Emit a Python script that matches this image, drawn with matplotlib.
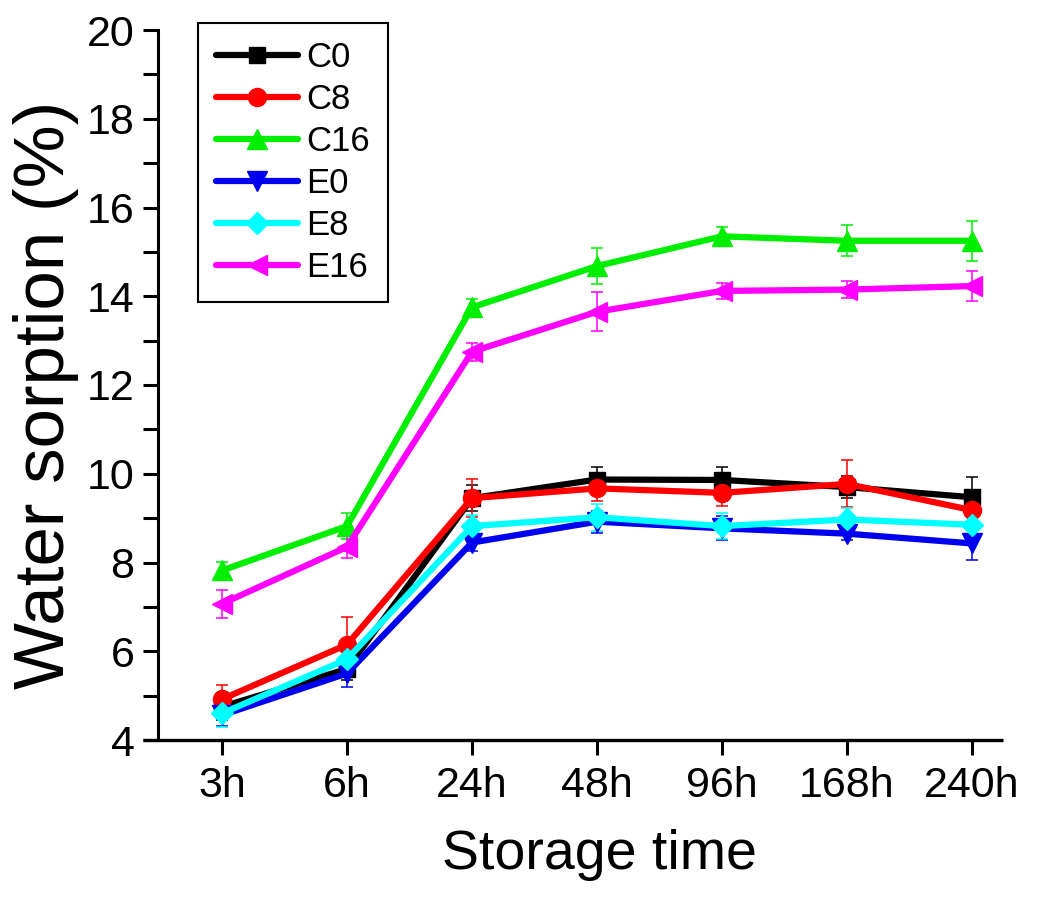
import matplotlib
matplotlib.use("Agg")
import matplotlib.pyplot as plt
from matplotlib.lines import Line2D
import numpy as np

plt.rcParams['font.family'] = ['Liberation Sans', 'DejaVu Sans']

categories = ["3h", "6h", "24h", "48h", "96h", "168h", "240h"]

C0 = [4.75, 5.6, 9.45, 9.87, 9.86, 9.7, 9.47]
C0_err = [0.3, 0.25, 0.3, 0.28, 0.3, 0.25, 0.45]
C8 = [4.92, 6.15, 9.45, 9.67, 9.57, 9.77, 9.18]
C8_err = [0.33, 0.62, 0.43, 0.28, 0.3, 0.53, 0.35]
C16 = [7.82, 8.82, 13.75, 14.68, 15.35, 15.25, 15.25]
C16_err = [0.2, 0.3, 0.18, 0.4, 0.2, 0.35, 0.45]
E0 = [4.56, 5.5, 8.45, 8.92, 8.77, 8.65, 8.43]
E0_err = [0.25, 0.3, 0.2, 0.25, 0.27, 0.15, 0.37]
E8 = [4.6, 5.82, 8.82, 9.02, 8.82, 8.97, 8.85]
E8_err = [0.3, 0.3, 0.25, 0.3, 0.3, 0.25, 0.2]
E16 = [7.07, 8.35, 12.75, 13.65, 14.12, 14.15, 14.23]
E16_err = [0.32, 0.25, 0.2, 0.44, 0.18, 0.19, 0.33]

series = [
    ("C0", C0, C0_err, "black", "s", 11),
    ("C8", C8, C8_err, "#ff0000", "o", 13),
    ("C16", C16, C16_err, "#00ee00", "^", 15),
    ("E0", E0, E0_err, "#0000ee", "v", 15),
    ("E8", E8, E8_err, "#00ffff", "D", 11.5),
    ("E16", E16, E16_err, "#ff00ff", "<", 15),
]

fig = plt.figure(figsize=(10.5, 9.02), dpi=100)
W, H = 1050, 902
left_px, right_px, top_px, bot_px = 158, 1003, 30, 740
ax = fig.add_axes([left_px / W, 1 - bot_px / H, (right_px - left_px) / W, (bot_px - top_px) / H])

x = np.arange(len(categories))
for name, vals, errs, col, mk, ms in series:
    ax.errorbar(x, vals, yerr=errs, fmt='none', ecolor=col,
                capsize=4.5, capthick=1.1, elinewidth=1.1)
for name, vals, errs, col, mk, ms in series:
    ax.plot(x, vals, color=col, lw=4.5, marker=mk, markersize=ms, label=name,
            solid_capstyle='round', solid_joinstyle='round')

spacing = 125
ax.set_xlim(-(222 - left_px) / spacing, (right_px - 222) / spacing)
ax.set_ylim(4, 20)
ax.set_xticks(x)
ax.set_xticklabels(categories)
ax.set_yticks(np.arange(4, 21, 2))
ax.set_yticks(np.arange(5, 20, 2), minor=True)

for s in ["top", "right", "bottom"]:
    ax.spines[s].set_visible(False)
ax.spines["left"].set_linewidth(2.2)
ax.add_line(Line2D([-15 / (right_px - left_px), 1], [0, 0], transform=ax.transAxes,
                   clip_on=False, color="black", lw=2.4, solid_capstyle='butt'))

ax.tick_params(axis='both', which='both', direction='out', length=11, width=2.2,
               labelsize=31, pad=6)
ax.tick_params(axis='x', pad=8)

ax.set_ylabel("Water sorption (%)", fontsize=51)
ax.yaxis.set_label_coords(-0.094, 0.486)
ax.set_xlabel("Storage time", fontsize=40)
ax.xaxis.set_label_coords(0.522, -0.125)

leg = ax.legend(loc='upper left',
                bbox_to_anchor=((198 - left_px) / (right_px - left_px), 1 + 7 / (bot_px - top_px)),
                fontsize=25, frameon=True, fancybox=False, edgecolor='black',
                handlelength=2.35, handletextpad=0.25, labelspacing=0.26,
                borderpad=0.52, borderaxespad=0, framealpha=1)
leg.get_frame().set_linewidth(1.5)

fig.savefig("out.png", dpi=100)
